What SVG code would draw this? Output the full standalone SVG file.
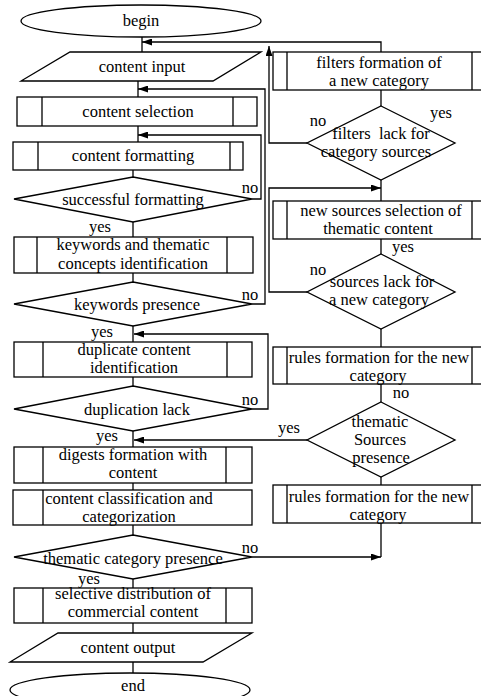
<svg xmlns="http://www.w3.org/2000/svg" width="481" height="696" viewBox="0 0 481 696" font-family="'Liberation Serif', 'Times New Roman', 'DejaVu Serif', serif">
<defs>
<style>
.s{fill:#fff;stroke:#000;stroke-width:1.3}
.b{fill:none;stroke:#000;stroke-width:1.3}
.c{fill:none;stroke:#000;stroke-width:1.3}
.t{font-family:'Liberation Serif','Times New Roman','DejaVu Serif',serif;font-size:16.5px;fill:#000;text-anchor:middle;white-space:pre}
</style>
<marker id="a" viewBox="0 0 10 7" markerWidth="11" markerHeight="7" refX="10" refY="3.5" orient="auto" markerUnits="userSpaceOnUse">
<path d="M0,0 L10,3.5 L0,7 z" fill="#000"/>
</marker>
</defs>
<rect width="481" height="696" fill="#fff"/>
<g id="connectors">
<path class="c" d="M142,37 V52"/>
<path class="c" d="M307,143 H269 V46" marker-end="url(#a)"/>
<path class="c" d="M381,52 V42 H142" marker-end="url(#a)"/>
<path class="c" d="M138,81 V97"/>
<path class="c" d="M252,304 H265 V89 H138" marker-end="url(#a)"/>
<path class="c" d="M138,126 V142"/>
<path class="c" d="M252,199 H261 V135 H138" marker-end="url(#a)"/>
<path class="c" d="M133,170 V177"/>
<path class="c" d="M133,222 V237"/>
<path class="c" d="M133,273 V282"/>
<path class="c" d="M133,326 V342"/>
<path class="c" d="M252,409 H268 V334 H134" marker-end="url(#a)"/>
<path class="c" d="M133,377 V386"/>
<path class="c" d="M133,431 V447"/>
<path class="c" d="M307,440 H134" marker-end="url(#a)"/>
<path class="c" d="M133,483 V490"/>
<path class="c" d="M133,525 V535"/>
<path class="c" d="M133,579 V588"/>
<path class="c" d="M381,523 V557"/>
<path class="c" d="M252,557 H381" marker-end="url(#a)"/>
<path class="c" d="M133,623 V633"/>
<path class="c" d="M133,662 V673"/>
<path class="c" d="M381,90 V106"/>
<path class="c" d="M381,180 V201"/>
<path class="c" d="M307,292 H269 V188 H381" marker-end="url(#a)"/>
<path class="c" d="M381,239 V254"/>
<path class="c" d="M381,329 V347"/>
<path class="c" d="M381,384 V402"/>
<path class="c" d="M381,477 V485"/>
</g>
<g id="begin">
<ellipse class="s" cx="141" cy="21" rx="120" ry="16"/>
<text class="t" x="141" y="26">begin</text>
</g>
<g id="content-input">
<polygon class="s" points="70,52 261,52 213,81 21,81"/>
<text class="t" x="142" y="72">content input</text>
</g>
<g id="content-selection">
<rect class="s" x="17" y="97" width="240" height="29"/>
<path class="b" d="M42,97 V126 M233,97 V126"/>
<text class="t" x="138" y="117">content selection</text>
</g>
<g id="content-formatting">
<rect class="s" x="13" y="142" width="230" height="28"/>
<path class="b" d="M38,142 V170 M230,142 V170"/>
<text class="t" x="133" y="161">content formatting</text>
</g>
<g id="successful-formatting">
<polygon class="s" points="133,177 252,199 133,222 14,199"/>
<text class="t" x="133" y="205">successful formatting</text>
<text class="t" x="250" y="193">no</text>
<text class="t" x="100" y="232">yes</text>
</g>
<g id="keywords-identification">
<rect class="s" x="14" y="237" width="239" height="36"/>
<path class="b" d="M37,237 V273 M227,237 V273"/>
<text class="t" x="133" y="250">keywords and thematic</text>
<text class="t" x="133" y="269">concepts identification</text>
</g>
<g id="keywords-presence">
<polygon class="s" points="133,282 252,304 133,326 14,304"/>
<text class="t" x="137" y="310">keywords presence</text>
<text class="t" x="250" y="300">no</text>
<text class="t" x="102" y="337">yes</text>
</g>
<g id="duplicate-identification">
<rect class="s" x="14" y="342" width="238" height="35"/>
<path class="b" d="M43,342 V377 M227,342 V377"/>
<text class="t" x="134" y="355">duplicate content</text>
<text class="t" x="134" y="373">identification</text>
</g>
<g id="duplication-lack">
<polygon class="s" points="133,386 252,409 133,431 14,409"/>
<text class="t" x="137" y="415">duplication lack</text>
<text class="t" x="250" y="405">no</text>
<text class="t" x="107" y="441">yes</text>
</g>
<g id="digests-formation">
<rect class="s" x="14" y="447" width="238" height="36"/>
<path class="b" d="M43,447 V483 M226,447 V483"/>
<text class="t" x="133" y="460">digests formation with</text>
<text class="t" x="133" y="478">content</text>
</g>
<g id="classification">
<rect class="s" x="13" y="490" width="239" height="35"/>
<path class="b" d="M43,490 V525"/>
<text class="t" x="129" y="504">content classification and</text>
<text class="t" x="129" y="522">categorization</text>
</g>
<g id="thematic-category-presence">
<polygon class="s" points="133,535 252,557 133,579 14,557"/>
<text class="t" x="133" y="564">thematic category presence</text>
<text class="t" x="250" y="553">no</text>
<text class="t" x="89" y="584">yes</text>
</g>
<g id="selective-distribution">
<rect class="s" x="14" y="588" width="238" height="35"/>
<path class="b" d="M43,588 V623 M226,588 V623"/>
<text class="t" x="133" y="599">selective distribution of</text>
<text class="t" x="133" y="617">commercial content</text>
</g>
<g id="content-output">
<polygon class="s" points="58,633 252,633 203,662 10,662"/>
<text class="t" x="128" y="653">content output</text>
</g>
<g id="end">
<ellipse class="s" cx="130" cy="690" rx="120" ry="17"/>
<text class="t" x="133" y="691">end</text>
</g>
<g id="filters-formation">
<rect class="s" x="273" y="52" width="216" height="38"/>
<path class="b" d="M287,52 V90 M472,52 V90"/>
<text class="t" x="379" y="68">filters formation of</text>
<text class="t" x="379" y="86">a new category</text>
</g>
<g id="filters-lack">
<polygon class="s" points="381,106 455,143 381,180 307,143"/>
<text class="t" x="381" y="139">filters  lack for</text>
<text class="t" x="376" y="157">category sources</text>
<text class="t" x="318" y="126">no</text>
<text class="t" x="441" y="118">yes</text>
</g>
<g id="new-sources-selection">
<rect class="s" x="273" y="201" width="216" height="38"/>
<path class="b" d="M287,201 V239 M472,201 V239"/>
<text class="t" x="381" y="216">new sources selection of</text>
<text class="t" x="378" y="234">thematic content</text>
<text class="t" x="403" y="252">yes</text>
</g>
<g id="sources-lack">
<polygon class="s" points="381,254 455,292 381,329 307,292"/>
<text class="t" x="382" y="287">sources lack for</text>
<text class="t" x="379" y="305">a new category</text>
<text class="t" x="318" y="275">no</text>
</g>
<g id="rules-formation-1">
<rect class="s" x="273" y="347" width="216" height="37"/>
<path class="b" d="M287,347 V384 M472,347 V384"/>
<text class="t" x="379" y="363">rules formation for the new</text>
<text class="t" x="378" y="381">category</text>
<text class="t" x="401" y="398">no</text>
</g>
<g id="thematic-sources-presence">
<polygon class="s" points="381,402 455,440 381,477 307,440"/>
<text class="t" x="380" y="427">thematic</text>
<text class="t" x="380" y="445">Sources</text>
<text class="t" x="381" y="463">presence</text>
<text class="t" x="289" y="433">yes</text>
</g>
<g id="rules-formation-2">
<rect class="s" x="273" y="485" width="216" height="38"/>
<path class="b" d="M287,485 V523 M472,485 V523"/>
<text class="t" x="379" y="502">rules formation for the new</text>
<text class="t" x="378" y="520">category</text>
</g>
</svg>
